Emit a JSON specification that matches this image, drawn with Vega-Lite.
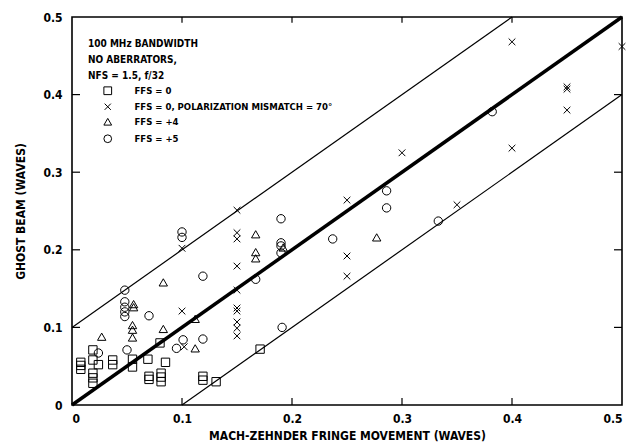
{
  "$schema": "https://vega.github.io/schema/vega-lite/v6.json",
  "width": 550,
  "height": 388,
  "autosize": {"type": "none"},
  "padding": {"left": 72, "top": 17, "right": 22, "bottom": 40},
  "background": "white",
  "title": {
    "text": ["100 MHz BANDWIDTH", "NO ABERRATORS,", "NFS = 1.5, f/32"],
    "anchor": "start", "frame": "group", "orient": "top", "offset": 0,
    "dx": 16, "dy": 71, "baseline": "top", "lineHeight": 16,
    "font": "DejaVu Sans Condensed, Liberation Sans", "fontSize": 10, "fontWeight": "bold", "color": "black"
  },
  "config": {
    "view": {"stroke": "black", "strokeWidth": 1.6},
    "font": "DejaVu Sans Condensed, Liberation Sans",
    "axis": {
      "labelFont": "DejaVu Sans Condensed, Liberation Sans",
      "titleFont": "DejaVu Sans Condensed, Liberation Sans",
      "labelFontWeight": "bold",
      "titleFontWeight": "bold",
      "labelColor": "black",
      "titleColor": "black",
      "labelFontSize": 12,
      "titleFontSize": 12,
      "domain": false,
      "ticks": false,
      "grid": false
    }
  },
  "datasets": {
    "pts": [
      {"x": 0.008, "y": 0.055, "series": "FFS = 0"},
      {"x": 0.008, "y": 0.051, "series": "FFS = 0"},
      {"x": 0.008, "y": 0.046, "series": "FFS = 0"},
      {"x": 0.019, "y": 0.071, "series": "FFS = 0"},
      {"x": 0.019, "y": 0.058, "series": "FFS = 0"},
      {"x": 0.019, "y": 0.041, "series": "FFS = 0"},
      {"x": 0.019, "y": 0.035, "series": "FFS = 0"},
      {"x": 0.019, "y": 0.028, "series": "FFS = 0"},
      {"x": 0.024, "y": 0.052, "series": "FFS = 0"},
      {"x": 0.037, "y": 0.058, "series": "FFS = 0"},
      {"x": 0.037, "y": 0.052, "series": "FFS = 0"},
      {"x": 0.055, "y": 0.059, "series": "FFS = 0"},
      {"x": 0.055, "y": 0.049, "series": "FFS = 0"},
      {"x": 0.069, "y": 0.059, "series": "FFS = 0"},
      {"x": 0.070, "y": 0.037, "series": "FFS = 0"},
      {"x": 0.070, "y": 0.033, "series": "FFS = 0"},
      {"x": 0.080, "y": 0.080, "series": "FFS = 0"},
      {"x": 0.081, "y": 0.041, "series": "FFS = 0"},
      {"x": 0.081, "y": 0.036, "series": "FFS = 0"},
      {"x": 0.081, "y": 0.030, "series": "FFS = 0"},
      {"x": 0.085, "y": 0.055, "series": "FFS = 0"},
      {"x": 0.119, "y": 0.037, "series": "FFS = 0"},
      {"x": 0.119, "y": 0.032, "series": "FFS = 0"},
      {"x": 0.131, "y": 0.030, "series": "FFS = 0"},
      {"x": 0.171, "y": 0.072, "series": "FFS = 0"},
      {"x": 0.1, "y": 0.202, "series": "FFS = 0, POLARIZATION MISMATCH = 70°"},
      {"x": 0.1, "y": 0.121, "series": "FFS = 0, POLARIZATION MISMATCH = 70°"},
      {"x": 0.102, "y": 0.075, "series": "FFS = 0, POLARIZATION MISMATCH = 70°"},
      {"x": 0.15, "y": 0.251, "series": "FFS = 0, POLARIZATION MISMATCH = 70°"},
      {"x": 0.15, "y": 0.222, "series": "FFS = 0, POLARIZATION MISMATCH = 70°"},
      {"x": 0.15, "y": 0.214, "series": "FFS = 0, POLARIZATION MISMATCH = 70°"},
      {"x": 0.15, "y": 0.179, "series": "FFS = 0, POLARIZATION MISMATCH = 70°"},
      {"x": 0.15, "y": 0.148, "series": "FFS = 0, POLARIZATION MISMATCH = 70°"},
      {"x": 0.15, "y": 0.125, "series": "FFS = 0, POLARIZATION MISMATCH = 70°"},
      {"x": 0.15, "y": 0.121, "series": "FFS = 0, POLARIZATION MISMATCH = 70°"},
      {"x": 0.15, "y": 0.107, "series": "FFS = 0, POLARIZATION MISMATCH = 70°"},
      {"x": 0.15, "y": 0.099, "series": "FFS = 0, POLARIZATION MISMATCH = 70°"},
      {"x": 0.15, "y": 0.089, "series": "FFS = 0, POLARIZATION MISMATCH = 70°"},
      {"x": 0.25, "y": 0.264, "series": "FFS = 0, POLARIZATION MISMATCH = 70°"},
      {"x": 0.25, "y": 0.192, "series": "FFS = 0, POLARIZATION MISMATCH = 70°"},
      {"x": 0.25, "y": 0.166, "series": "FFS = 0, POLARIZATION MISMATCH = 70°"},
      {"x": 0.3, "y": 0.325, "series": "FFS = 0, POLARIZATION MISMATCH = 70°"},
      {"x": 0.35, "y": 0.258, "series": "FFS = 0, POLARIZATION MISMATCH = 70°"},
      {"x": 0.4, "y": 0.468, "series": "FFS = 0, POLARIZATION MISMATCH = 70°"},
      {"x": 0.4, "y": 0.331, "series": "FFS = 0, POLARIZATION MISMATCH = 70°"},
      {"x": 0.45, "y": 0.41, "series": "FFS = 0, POLARIZATION MISMATCH = 70°"},
      {"x": 0.45, "y": 0.407, "series": "FFS = 0, POLARIZATION MISMATCH = 70°"},
      {"x": 0.45, "y": 0.38, "series": "FFS = 0, POLARIZATION MISMATCH = 70°"},
      {"x": 0.5, "y": 0.462, "series": "FFS = 0, POLARIZATION MISMATCH = 70°"},
      {"x": 0.027, "y": 0.088, "series": "FFS = +4"},
      {"x": 0.056, "y": 0.130, "series": "FFS = +4"},
      {"x": 0.056, "y": 0.126, "series": "FFS = +4"},
      {"x": 0.055, "y": 0.103, "series": "FFS = +4"},
      {"x": 0.055, "y": 0.097, "series": "FFS = +4"},
      {"x": 0.055, "y": 0.087, "series": "FFS = +4"},
      {"x": 0.083, "y": 0.158, "series": "FFS = +4"},
      {"x": 0.083, "y": 0.098, "series": "FFS = +4"},
      {"x": 0.112, "y": 0.111, "series": "FFS = +4"},
      {"x": 0.112, "y": 0.073, "series": "FFS = +4"},
      {"x": 0.167, "y": 0.220, "series": "FFS = +4"},
      {"x": 0.167, "y": 0.197, "series": "FFS = +4"},
      {"x": 0.167, "y": 0.189, "series": "FFS = +4"},
      {"x": 0.192, "y": 0.203, "series": "FFS = +4"},
      {"x": 0.277, "y": 0.216, "series": "FFS = +4"},
      {"x": 0.024, "y": 0.067, "series": "FFS = +5"},
      {"x": 0.048, "y": 0.148, "series": "FFS = +5"},
      {"x": 0.048, "y": 0.133, "series": "FFS = +5"},
      {"x": 0.048, "y": 0.126, "series": "FFS = +5"},
      {"x": 0.048, "y": 0.120, "series": "FFS = +5"},
      {"x": 0.048, "y": 0.114, "series": "FFS = +5"},
      {"x": 0.050, "y": 0.071, "series": "FFS = +5"},
      {"x": 0.070, "y": 0.115, "series": "FFS = +5"},
      {"x": 0.095, "y": 0.073, "series": "FFS = +5"},
      {"x": 0.101, "y": 0.084, "series": "FFS = +5"},
      {"x": 0.100, "y": 0.223, "series": "FFS = +5"},
      {"x": 0.100, "y": 0.216, "series": "FFS = +5"},
      {"x": 0.119, "y": 0.166, "series": "FFS = +5"},
      {"x": 0.119, "y": 0.085, "series": "FFS = +5"},
      {"x": 0.167, "y": 0.162, "series": "FFS = +5"},
      {"x": 0.190, "y": 0.240, "series": "FFS = +5"},
      {"x": 0.190, "y": 0.209, "series": "FFS = +5"},
      {"x": 0.190, "y": 0.205, "series": "FFS = +5"},
      {"x": 0.190, "y": 0.196, "series": "FFS = +5"},
      {"x": 0.191, "y": 0.100, "series": "FFS = +5"},
      {"x": 0.237, "y": 0.214, "series": "FFS = +5"},
      {"x": 0.286, "y": 0.276, "series": "FFS = +5"},
      {"x": 0.286, "y": 0.254, "series": "FFS = +5"},
      {"x": 0.333, "y": 0.237, "series": "FFS = +5"},
      {"x": 0.382, "y": 0.378, "series": "FFS = +5"}
    ],
    "lines": [
      {"x": 0, "y": 0, "line": "center"},
      {"x": 0.5, "y": 0.5, "line": "center"},
      {"x": 0, "y": 0.1, "line": "upper"},
      {"x": 0.4, "y": 0.5, "line": "upper"},
      {"x": 0.1, "y": 0, "line": "lower"},
      {"x": 0.5, "y": 0.4, "line": "lower"}
    ],
    "tickvals": [{"v": 0.1}, {"v": 0.2}, {"v": 0.3}, {"v": 0.4}]
  },
  "layer": [
    {
      "data": {"name": "lines"},
      "transform": [{"filter": "datum.line != 'center'"}],
      "mark": {"type": "line", "color": "black", "strokeWidth": 1.2},
      "encoding": {
        "x": {"field": "x", "type": "quantitative", "scale": {"domain": [0, 0.5], "nice": false},
          "axis": {"orient": "bottom", "values": [0, 0.1, 0.2, 0.3, 0.4, 0.5], "labelPadding": 8,
            "labelExpr": "datum.value == 0 ? '0' : format(datum.value, '.1f')",
            "title": "MACH-ZEHNDER FRINGE MOVEMENT (WAVES)", "titlePadding": 6}},
        "y": {"field": "y", "type": "quantitative", "scale": {"domain": [0, 0.5], "nice": false},
          "axis": {"orient": "left", "values": [0, 0.1, 0.2, 0.3, 0.4, 0.5], "labelPadding": 10,
            "labelExpr": "datum.value == 0 ? '0' : format(datum.value, '.1f')",
            "title": "GHOST BEAM (WAVES)", "titlePadding": 15}},
        "detail": {"field": "line"}
      }
    },
    {
      "data": {"name": "lines"},
      "transform": [{"filter": "datum.line == 'center'"}],
      "mark": {"type": "line", "color": "black", "strokeWidth": 3.5},
      "encoding": {
        "x": {"field": "x", "type": "quantitative"},
        "y": {"field": "y", "type": "quantitative"}
      }
    },
    {
      "data": {"name": "tickvals"},
      "mark": {"type": "rule", "color": "black", "strokeWidth": 1.2},
      "encoding": {
        "x": {"field": "v", "type": "quantitative"},
        "y": {"datum": 0},
        "y2": {"datum": 0.009}
      }
    },
    {
      "data": {"name": "tickvals"},
      "mark": {"type": "rule", "color": "black", "strokeWidth": 1.2},
      "encoding": {
        "x": {"field": "v", "type": "quantitative"},
        "y": {"datum": 0.5},
        "y2": {"datum": 0.4925}
      }
    },
    {
      "data": {"name": "tickvals"},
      "mark": {"type": "rule", "color": "black", "strokeWidth": 1.2},
      "encoding": {
        "y": {"field": "v", "type": "quantitative"},
        "x": {"datum": 0},
        "x2": {"datum": 0.0073}
      }
    },
    {
      "data": {"name": "tickvals"},
      "mark": {"type": "rule", "color": "black", "strokeWidth": 1.2},
      "encoding": {
        "y": {"field": "v", "type": "quantitative"},
        "x": {"datum": 0.5},
        "x2": {"datum": 0.4927}
      }
    },
    {
      "data": {"name": "pts"},
      "mark": {"type": "point", "filled": false, "color": "black", "strokeWidth": 1, "size": 70, "opacity": 1},
      "encoding": {
        "x": {"field": "x", "type": "quantitative"},
        "y": {"field": "y", "type": "quantitative"},
        "shape": {
          "field": "series", "type": "nominal",
          "scale": {
            "domain": ["FFS = 0", "FFS = 0, POLARIZATION MISMATCH = 70°", "FFS = +4", "FFS = +5"],
            "range": ["square", "M-0.8,-0.8L0.8,0.8M-0.8,0.8L0.8,-0.8", "triangle-up", "circle"]
          },
          "legend": {
            "orient": "none", "legendX": 31, "legendY": 69,
            "title": null,
            "labelFont": "DejaVu Sans Condensed, Liberation Sans", "labelFontSize": 9.5, "labelFontWeight": "bold", "labelColor": "black",
            "labelLimit": 0, "labelOffset": 22, "rowPadding": 4,
            "symbolSize": 60, "symbolStrokeColor": "black", "symbolStrokeWidth": 1, "symbolFillColor": "white",
            "padding": 0
          }
        }
      }
    }
  ]
}
